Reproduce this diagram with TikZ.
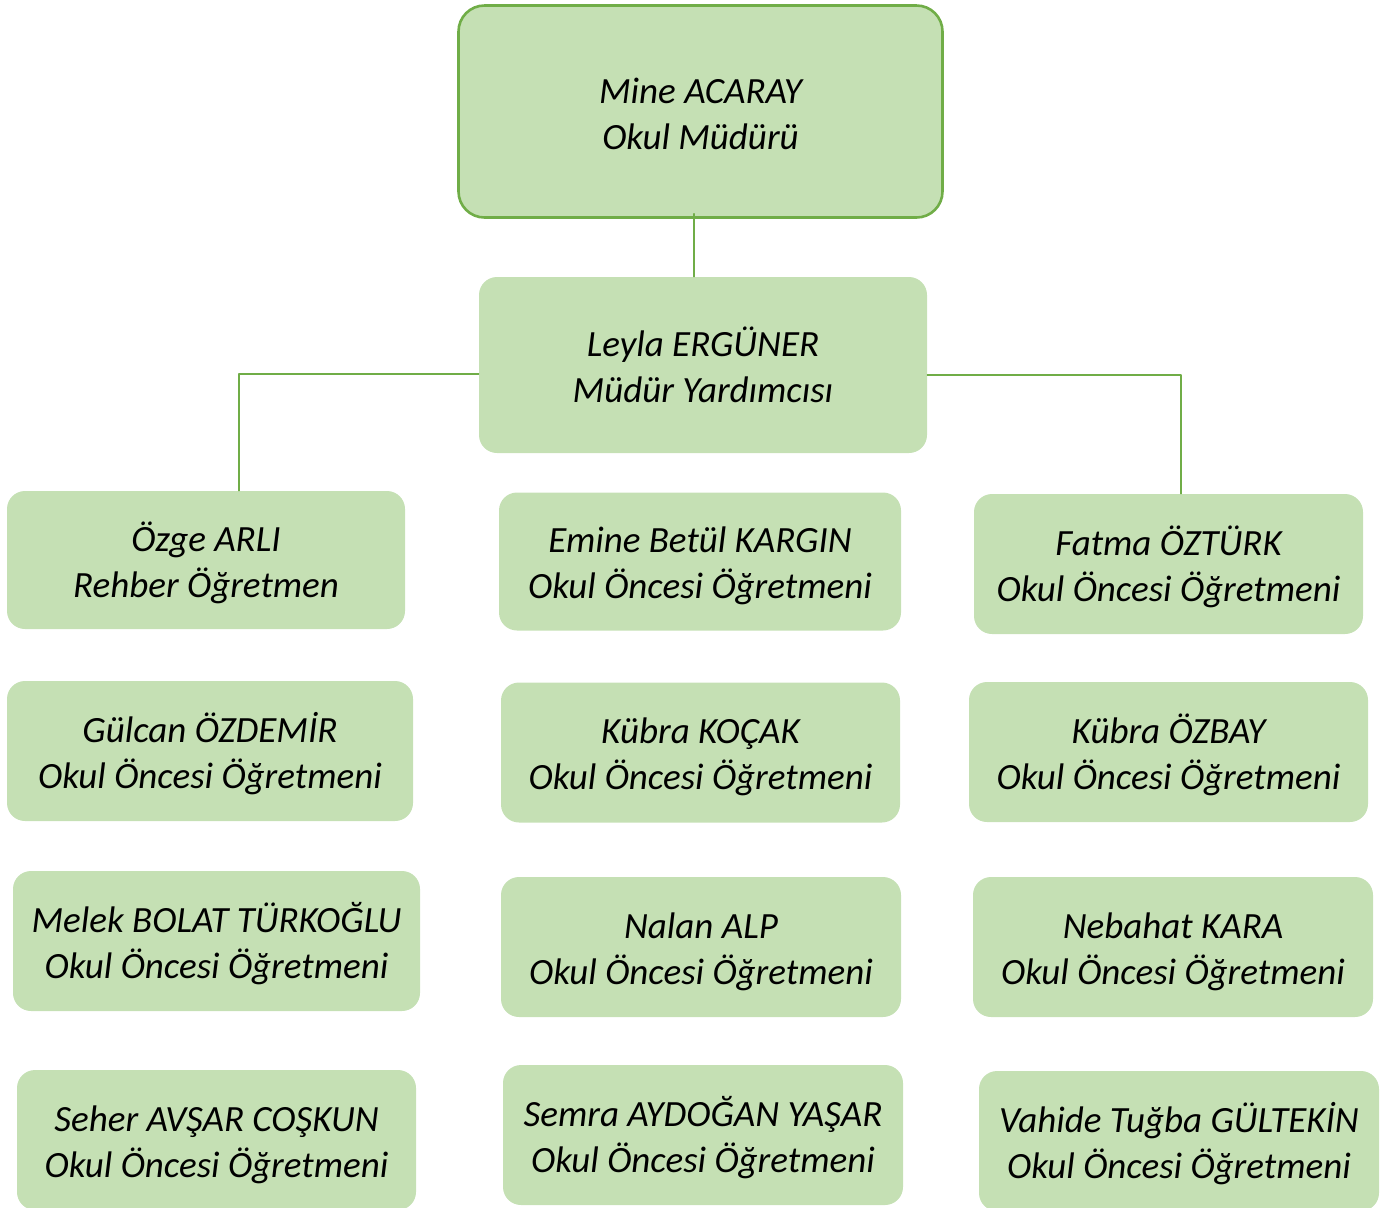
\documentclass[tikz,border=0pt]{standalone}
\usepackage{fontspec}
\setmainfont{Carlito}
\usetikzlibrary{positioning}
\definecolor{kutuyesil}{HTML}{C5E0B4}
\definecolor{cizgiyesil}{HTML}{70AD47}
\newcommand{\ustboy}[1][17.25pt]{\rule{0pt}{#1}}
\tikzset{
  kutu/.style={fill=kutuyesil, rounded corners=9pt, minimum width=200pt, minimum height=70pt,
    align=center, inner sep=0pt, font=\fontsize{18.5}{23}\selectfont\itshape},
  baglanti/.style={draw=cizgiyesil, line width=0.8pt}
}
\begin{document}
\begin{tikzpicture}[x=0.5pt,y=-0.5pt,line cap=round,line join=round]
\useasboundingbox (0,0) rectangle (1392,1207);
\clip (0,0) rectangle (1392,1207);
% ust kademe
\node[kutu, draw=cizgiyesil, line width=1.3pt, rounded corners=13pt, minimum width=242pt, minimum height=106pt] (mudur) at (700.5,111.5) {\ustboy[15pt]Mine ACARAY\\Okul Müdürü};
\node[kutu, minimum width=224pt, minimum height=88pt] (yardimci) at (703,365) {\ustboy[15pt]Leyla ERGÜNER\\Müdür Yardımcısı};
% 1. sira
\node[kutu, minimum width=199pt, minimum height=69pt] (ozge) at (206,560) {\ustboy Özge ARLI\\Rehber Öğretmen};
\node[kutu, minimum width=201pt, minimum height=69pt] (emine) at (700,561.5) {\ustboy Emine Betül KARGIN\\Okul Öncesi Öğretmeni};
\node[kutu, minimum width=194.5pt, minimum height=70pt] (fatma) at (1168.5,564) {\ustboy Fatma ÖZTÜRK\\Okul Öncesi Öğretmeni};
% 2. sira
\node[kutu, minimum width=203pt] (gulcan) at (210,751) {\ustboy Gülcan ÖZDEMİR\\Okul Öncesi Öğretmeni};
\node[kutu, minimum width=199.5pt] (kubrak) at (700.5,752.5) {\ustboy Kübra KOÇAK\\Okul Öncesi Öğretmeni};
\node[kutu, minimum width=199.5pt] (kubrao) at (1168.5,752) {\ustboy Kübra ÖZBAY\\Okul Öncesi Öğretmeni};
% 3. sira
\node[kutu, minimum width=203.5pt] (melek) at (216.5,941) {\ustboy Melek BOLAT TÜRKOĞLU\\Okul Öncesi Öğretmeni};
\node[kutu] (nalan) at (701,947) {\ustboy Nalan ALP\\Okul Öncesi Öğretmeni};
\node[kutu] (nebahat) at (1173,947) {\ustboy Nebahat KARA\\Okul Öncesi Öğretmeni};
% 4. sira
\node[kutu, minimum width=199.5pt] (seher) at (216.5,1140) {\ustboy Seher AVŞAR COŞKUN\\Okul Öncesi Öğretmeni};
\node[kutu] (semra) at (703,1135) {\ustboy Semra AYDOĞAN YAŞAR\\Okul Öncesi Öğretmeni};
\node[kutu] (vahide) at (1179,1141) {\ustboy Vahide Tuğba GÜLTEKİN\\Okul Öncesi Öğretmeni};
% baglantilar
\coordinate (solkose) at (239,374);
\coordinate (sagkose) at (1181,375);
\draw[baglanti] ([xshift=-3.25pt,yshift=2.5pt]mudur.south) -- ([xshift=-4.5pt]yardimci.north);
\draw[baglanti] (yardimci.west |- solkose) -- (solkose) -- (solkose |- ozge.north);
\draw[baglanti] (yardimci.east |- sagkose) -- (sagkose) -- (sagkose |- fatma.north);
\end{tikzpicture}
\end{document}
